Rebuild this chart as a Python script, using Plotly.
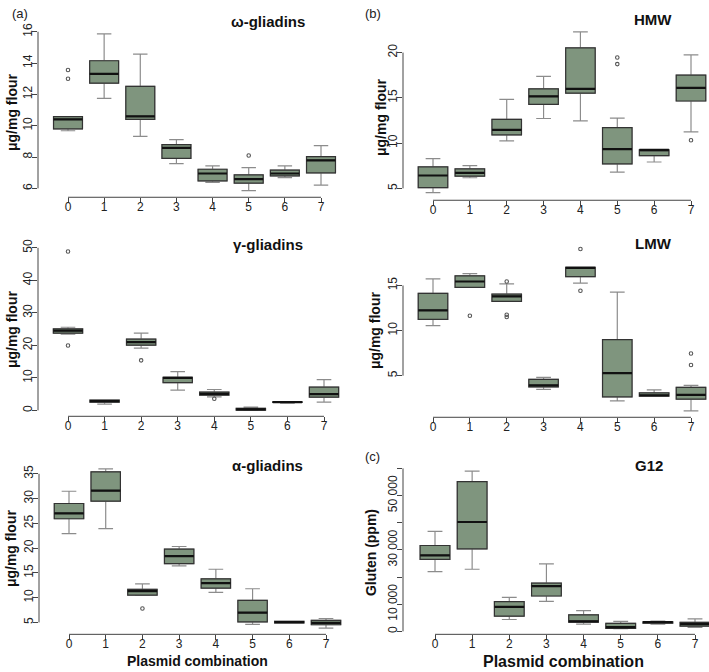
import plotly.graph_objects as go

W, H = 709, 672
FILL = '#7f957e'

combos = [0, 1, 2, 3, 4, 5, 6, 7]

# omega-gliadins (ug/mg flour)
omega_lo = [9.68, 11.74, 9.32, 7.58, 6.38, 5.85, 6.69, 6.21]
omega_q1 = [9.80, 12.72, 10.41, 7.91, 6.48, 6.34, 6.80, 6.99]
omega_med = [10.41, 13.31, 10.60, 8.58, 6.95, 6.59, 6.95, 7.79]
omega_q3 = [10.58, 14.15, 12.51, 8.79, 7.22, 6.86, 7.16, 8.02]
omega_hi = [10.58, 15.87, 14.57, 9.11, 7.43, 7.32, 7.43, 8.73]
omega_out_x = [0, 0, 5]
omega_out_y = [13.0, 13.56, 8.1]

# HMW
hmw_lo = [4.53, 6.17, 10.24, 12.72, 12.46, 6.79, 7.91, 11.23]
hmw_q1 = [5.07, 6.35, 10.90, 14.28, 15.52, 7.70, 8.61, 14.65]
hmw_med = [6.42, 6.71, 11.45, 15.16, 16.00, 9.33, 9.26, 16.10]
hmw_q3 = [7.37, 7.15, 12.61, 16.00, 20.51, 11.70, 9.26, 17.52]
hmw_hi = [8.28, 7.51, 14.83, 17.38, 22.29, 12.76, 9.26, 19.75]
hmw_out_x = [5, 5, 7]
hmw_out_y = [19.45, 18.73, 10.32]

# gamma-gliadins
gamma_lo = [23.42, 1.93, 19.14, 6.21, 4.17, 0.0, 2.24, 2.55]
gamma_q1 = [23.73, 2.55, 20.06, 8.55, 4.68, 0.10, 2.44, 4.07]
gamma_med = [24.54, 2.85, 20.98, 9.98, 5.09, 0.31, 2.55, 4.99]
gamma_q3 = [25.05, 3.16, 21.89, 10.18, 5.60, 0.61, 2.65, 7.13]
gamma_hi = [25.56, 3.16, 23.73, 11.91, 6.42, 1.02, 2.65, 9.47]
gamma_out_x = [0, 0, 2, 4]
gamma_out_y = [48.88, 19.96, 15.38, 3.56]

# LMW
lmw_lo = [10.55, 14.78, 13.24, 3.49, 15.26, 2.21, 2.72, 1.10]
lmw_q1 = [11.25, 14.78, 13.24, 3.75, 15.99, 2.65, 2.72, 2.39]
lmw_med = [12.24, 15.44, 13.79, 3.93, 16.95, 5.29, 2.83, 2.87]
lmw_q3 = [14.12, 16.07, 14.04, 4.60, 17.02, 9.00, 3.09, 3.71]
lmw_hi = [15.74, 16.32, 15.18, 4.82, 17.02, 14.26, 3.42, 3.93]
lmw_out_x = [1, 2, 2, 2, 4, 4, 7, 7]
lmw_out_y = [11.65, 15.44, 11.76, 11.51, 19.04, 14.41, 7.46, 6.18]

# alpha-gliadins
alpha_lo = [22.93, 23.93, 10.47, 16.40, 11.07, 4.60, 4.93, 3.87]
alpha_q1 = [25.93, 29.47, 10.53, 16.87, 11.93, 5.13, 4.93, 4.53]
alpha_med = [27.00, 31.60, 11.33, 18.40, 12.93, 7.00, 5.07, 4.93]
alpha_q3 = [29.00, 35.40, 11.67, 19.80, 13.80, 9.47, 5.20, 5.40]
alpha_hi = [31.47, 36.00, 12.80, 20.33, 15.73, 11.80, 5.20, 5.80]
alpha_out_x = [2]
alpha_out_y = [7.8]

# G12 gluten (ppm)
g12_lo = [22020, 22870, 4380, 11070, 2680, 1000, 2680, 1460]
g12_q1 = [26520, 30410, 5600, 13020, 3410, 1090, 3040, 1950]
g12_med = [27980, 40270, 9000, 16670, 3650, 1580, 3410, 2680]
g12_q3 = [31630, 55110, 10950, 17760, 6080, 2920, 3530, 3280]
g12_hi = [36860, 59000, 12530, 24820, 7660, 3650, 3770, 4620]
g12_out_x = []
g12_out_y = []

g12_ticks = [0, 10000, 20000, 30000, 40000, 50000, 60000]
g12_ticktext = ['0', '10 000', '', '30 000', '', '50 000', '']

# panel frames in pixels: plot box, where ticks 0 and 7 fall, two y ticks
panels = [
    dict(name='ω-gliadins', data=(omega_lo, omega_q1, omega_med, omega_q3, omega_hi, omega_out_x, omega_out_y),
         box=(38, 351, 22, 193), xt=(68, 321), yt=((16, 26), (6, 184)),
         ticks=[6, 8, 10, 12, 14, 16], text=None, title_xy=(268, 16), ylab='μg/mg flour', ylab_xy=(12, 107)),
    dict(name='HMW', data=(hmw_lo, hmw_q1, hmw_med, hmw_q3, hmw_hi, hmw_out_x, hmw_out_y),
         box=(403, 709, 19, 196), xt=(433, 691), yt=((20, 47), (5, 184)),
         ticks=[5, 10, 15, 20], text=None, title_xy=(653, 14), ylab='μg/mg flour', ylab_xy=(381, 112)),
    dict(name='γ-gliadins', data=(gamma_lo, gamma_q1, gamma_med, gamma_q3, gamma_hi, gamma_out_x, gamma_out_y),
         box=(38, 354, 241, 414), xt=(68, 324), yt=((50, 244), (0, 408)),
         ticks=[0, 10, 20, 30, 40, 50], text=None, title_xy=(268, 241), ylab='μg/mg flour', ylab_xy=(12, 326)),
    dict(name='LMW', data=(lmw_lo, lmw_q1, lmw_med, lmw_q3, lmw_hi, lmw_out_x, lmw_out_y),
         box=(403, 709, 239, 415), xt=(433, 691), yt=((15, 282), (5, 373)),
         ticks=[5, 10, 15], text=None, title_xy=(653, 240), ylab='μg/mg flour', ylab_xy=(375, 327)),
    dict(name='α-gliadins', data=(alpha_lo, alpha_q1, alpha_med, alpha_q3, alpha_hi, alpha_out_x, alpha_out_y),
         box=(39, 356, 461, 634), xt=(69, 326), yt=((35, 472), (5, 622)),
         ticks=[5, 10, 15, 20, 25, 30, 35], text=None, title_xy=(267, 464), ylab='μg/mg flour', ylab_xy=(11, 547)),
    dict(name='G12', data=(g12_lo, g12_q1, g12_med, g12_q3, g12_hi, g12_out_x, g12_out_y),
         box=(403, 709, 463, 634), xt=(435, 695), yt=((50000, 494), (0, 631)),
         ticks=g12_ticks, text=g12_ticktext, title_xy=(649, 464), ylab='Gluten (ppm)', ylab_xy=(371, 552)),
]

fig = go.Figure()
shapes = []
annotations = []
AXC = '#444444'
FONT = 'Liberation Sans, Arial, sans-serif'

for i, p in enumerate(panels, start=1):
    lo, q1, med, q3, hi, ox, oy = p['data']
    suffix = '' if i == 1 else str(i)
    xa, ya = 'x' + suffix, 'y' + suffix
    common = dict(x=combos, xaxis=xa, yaxis=ya, width=0.8, boxpoints=False,
                  showlegend=False, hoverinfo='skip')
    # whiskers + caps
    fig.add_trace(go.Box(q1=q1, median=med, q3=q3, lowerfence=lo, upperfence=hi,
                         whiskerwidth=0.5, fillcolor=FILL,
                         line=dict(color='#8c8c8c', width=1.2), **common))
    # box outline
    fig.add_trace(go.Box(q1=q1, median=med, q3=q3, lowerfence=q1, upperfence=q3,
                         whiskerwidth=0, fillcolor=FILL,
                         line=dict(color='#333333', width=1.2), **common))
    # thick median
    fig.add_trace(go.Box(q1=med, median=med, q3=med, lowerfence=med, upperfence=med,
                         whiskerwidth=0, fillcolor='rgba(0,0,0,0)',
                         line=dict(color='#111111', width=2.2), **common))
    if ox:
        fig.add_trace(go.Scatter(x=ox, y=oy, xaxis=xa, yaxis=ya, mode='markers',
                                 marker=dict(symbol='circle-open', size=3.5, color='#555555',
                                             line=dict(width=1.1)),
                                 showlegend=False, hoverinfo='skip'))

    left, right, top, bottom = p['box']
    x0px, x7px = p['xt']
    ppu = (x7px - x0px) / 7.0
    xr = [(left - x0px) / ppu, (right - x0px) / ppu]
    (va, pa), (vb, pb) = p['yt']
    ppy = (pb - pa) / (va - vb)
    yr = [va + (pa - bottom) / ppy, va + (pa - top) / ppy]

    fig.layout['xaxis' + suffix] = dict(domain=[left / W, right / W], anchor=ya, range=xr,
                                        tickvals=combos, ticks='outside', ticklen=5,
                                        tickcolor=AXC, showline=False, showgrid=False,
                                        zeroline=False, ticklabelstandoff=-7,
                                        tickfont=dict(size=12, color='#222'))
    ydict = dict(domain=[1 - bottom / H, 1 - top / H], anchor=xa, range=yr,
                 tickvals=p['ticks'], ticks='outside', ticklen=5, tickcolor=AXC,
                 tickangle=-90, showline=False, showgrid=False, zeroline=False,
                 ticklabelstandoff=-5, tickfont=dict(size=12, color='#222'))
    if p['text']:
        ydict['ticktext'] = p['text']
    fig.layout['yaxis' + suffix] = ydict

    # R-style axis lines between first and last tick
    shapes.append(dict(type='line', xref=xa, yref=ya + ' domain', x0=combos[0], x1=combos[-1],
                       y0=0, y1=0, line=dict(color=AXC, width=1)))
    shapes.append(dict(type='line', xref=xa + ' domain', yref=ya, x0=0, x1=0,
                       y0=p['ticks'][0], y1=p['ticks'][-1], line=dict(color=AXC, width=1)))

    tx, ty = p['title_xy']
    annotations.append(dict(text=f"<b>{p['name']}</b>", x=tx / W, y=1 - ty / H, xref='paper',
                            yref='paper', showarrow=False, xanchor='center', yanchor='middle',
                            font=dict(size=15, color='#111')))
    lx, ly = p['ylab_xy']
    annotations.append(dict(text=f"<b>{p['ylab']}</b>", x=lx / W, y=1 - ly / H, xref='paper',
                            yref='paper', showarrow=False, xanchor='center', yanchor='middle',
                            textangle=-90, font=dict(size=14, color='#111')))

for lab, px, py in [('(a)', 20, 8), ('(b)', 373, 8), ('(c)', 373, 455)]:
    annotations.append(dict(text=lab, x=px / W, y=1 - py / H, xref='paper', yref='paper',
                            showarrow=False, xanchor='center', yanchor='middle',
                            font=dict(size=13, color='#222')))
for px, fs in ((197, 14), (563, 16)):
    annotations.append(dict(text='<b>Plasmid combination</b>', x=px / W, y=1 - 661 / H,
                            xref='paper', yref='paper', showarrow=False, xanchor='center',
                            yanchor='middle', font=dict(size=fs, color='#111')))

fig.update_layout(
    width=W, height=H,
    margin=dict(l=0, r=0, t=0, b=0),
    paper_bgcolor='white', plot_bgcolor='white',
    font=dict(family=FONT),
    boxmode='overlay',
    shapes=shapes,
    annotations=annotations,
)

# page body has a default 8px margin; drop it so the figure sits at the corner
fig.write_html("out.html", config={'displayModeBar': False},
               post_script="document.body.style.margin='0';")
